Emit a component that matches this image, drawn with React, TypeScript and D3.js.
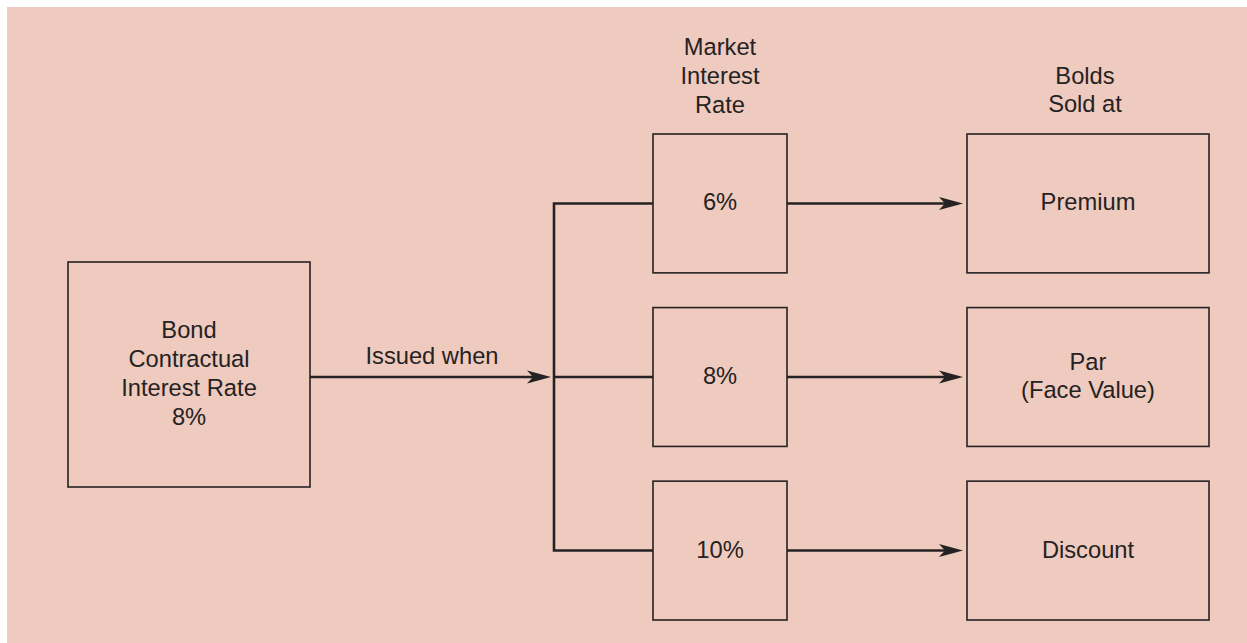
import * as d3 from 'd3';

// market rates and outcomes, top to bottom
const marketRates = ['6%', '8%', '10%'];
const soldAt = [['Premium'], ['Par', '(Face Value)'], ['Discount']];
const bondLines = ['Bond', 'Contractual', 'Interest Rate', '8%'];
const marketHeader = ['Market', 'Interest', 'Rate'];
const soldHeader = ['Bolds', 'Sold at'];
const issuedLabel = 'Issued when';

const W = 1247;
const H = 643;
const BG = '#efcabe';
const INK = '#252223';
const FONT = "'Liberation Sans', Arial, Helvetica, sans-serif";
const FS = 23.7;
const LH = 28.7;
const BASE = 7; // baseline offset from visual centre

export default function App() {
  // rows of the right-hand boxes
  const y = d3.scaleBand<string>()
    .domain(marketRates)
    .range([134, 620])
    .paddingInner(0.2)
    .paddingOuter(0);
  const bh = y.bandwidth();
  const cy = (r: string) => (y(r) ?? 0) + bh / 2;

  const left = { x0: 68, x1: 310, y0: 262, y1: 487 };
  const mid = { x0: 653, x1: 787 };
  const right = { x0: 967, x1: 1209 };
  const bracketX = 554;
  const midY = cy(marketRates[1]);

  const arrowHead = (tipX: number, yy: number) => {
    const p = d3.path();
    p.moveTo(tipX, yy);
    p.lineTo(tipX - 24, yy - 6.5);
    p.lineTo(tipX - 18, yy);
    p.lineTo(tipX - 24, yy + 6.5);
    p.closePath();
    return p.toString();
  };

  const lines = (txt: string[], x: number, c: number) =>
    txt.map((t, i) => (
      <text key={i} x={x} y={c + (i - (txt.length - 1) / 2) * LH + BASE} textAnchor="middle">{t}</text>
    ));

  return (
    <div style={{ position: 'absolute', left: 0, top: 0 }}>
      <svg width={W} height={H} style={{ display: 'block' }}>
        <rect x={7} y={7} width={W - 7} height={H - 7} fill={BG} />
        <g fontFamily={FONT} fontSize={FS} fill={INK}>
          {/* contractual box */}
          <rect x={left.x0} y={left.y0} width={left.x1 - left.x0} height={left.y1 - left.y0}
            fill="none" stroke={INK} strokeWidth={1.6} />
          {lines(bondLines, (left.x0 + left.x1) / 2, (left.y0 + left.y1) / 2)}

          {/* issued when arrow */}
          <line x1={left.x1} x2={bracketX - 10} y1={midY} y2={midY} stroke={INK} strokeWidth={2.4} />
          <path d={arrowHead(bracketX - 3, midY)} fill={INK} />
          <text x={(left.x1 + bracketX) / 2} y={midY - 13} textAnchor="middle">{issuedLabel}</text>

          {/* bracket */}
          <path
            d={`M${mid.x0},${cy(marketRates[0])}H${bracketX}V${cy(marketRates[2])}H${mid.x0}`}
            fill="none" stroke={INK} strokeWidth={2.6} />
          <line x1={bracketX} x2={mid.x0} y1={midY} y2={midY} stroke={INK} strokeWidth={2.6} />

          {/* headers */}
          {lines(marketHeader, (mid.x0 + mid.x1) / 2, 84 - BASE)}
          {lines(soldHeader, 1085, 98 - BASE)}

          {marketRates.map((r, i) => {
            const c = cy(r);
            return (
              <g key={r}>
                <rect x={mid.x0} y={y(r)} width={mid.x1 - mid.x0} height={bh}
                  fill="none" stroke={INK} strokeWidth={1.6} />
                {lines([r], (mid.x0 + mid.x1) / 2, c)}
                <line x1={mid.x1} x2={right.x0 - 14} y1={c} y2={c} stroke={INK} strokeWidth={2.4} />
                <path d={arrowHead(right.x0 - 4, c)} fill={INK} />
                <rect x={right.x0} y={y(r)} width={right.x1 - right.x0} height={bh}
                  fill="none" stroke={INK} strokeWidth={1.6} />
                {lines(soldAt[i], (right.x0 + right.x1) / 2, c)}
              </g>
            );
          })}
        </g>
      </svg>
    </div>
  );
}
